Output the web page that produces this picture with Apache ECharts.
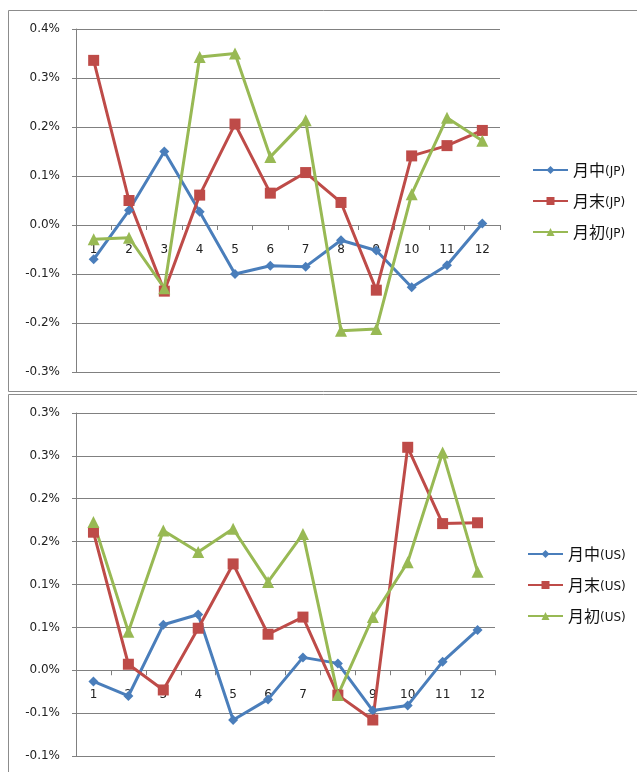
<!DOCTYPE html>
<html>
<head>
<meta charset="utf-8">
<script src="https://cdn.jsdelivr.net/npm/echarts@6/dist/echarts.min.js"></script>
<style>
  html, body { margin: 0; padding: 0; background: #fff; }
  #chart { width: 637px; height: 772px; }
</style>
</head>
<body>
<div id="chart"></div>
<script>
// Months on the category axis
const months = ['1', '2', '3', '4', '5', '6', '7', '8', '9', '10', '11', '12'];

// Japan: mid-month, month-end, month-start returns (%)
const jpMid   = [-0.070, 0.030, 0.150, 0.027, -0.100, -0.083, -0.085, -0.031, -0.052, -0.127, -0.082, 0.003];
const jpEnd   = [0.336, 0.050, -0.135, 0.061, 0.206, 0.065, 0.107, 0.046, -0.133, 0.141, 0.162, 0.193];
const jpStart = [-0.029, -0.026, -0.129, 0.343, 0.350, 0.139, 0.214, -0.216, -0.212, 0.063, 0.219, 0.172];

// US: mid-month, month-end, month-start returns (%)
const usMid   = [-0.013, -0.030, 0.053, 0.065, -0.058, -0.034, 0.015, 0.008, -0.047, -0.041, 0.010, 0.047];
const usEnd   = [0.161, 0.007, -0.023, 0.049, 0.124, 0.042, 0.062, -0.029, -0.058, 0.260, 0.171, 0.172];
const usStart = [0.173, 0.045, 0.163, 0.138, 0.165, 0.103, 0.159, -0.029, 0.062, 0.126, 0.254, 0.115];

// Series names
const jpNames = ['月中(JP)', '月末(JP)', '月初(JP)'];
const usNames = ['月中(US)', '月末(US)', '月初(US)'];

// Value-axis ranges and their tick labels (one decimal, rounded half up)
const jpMin = -0.3, jpMax = 0.4, jpStep = 0.1;
const jpTicks = ['-0.3%', '-0.2%', '-0.1%', '0.0%', '0.1%', '0.2%', '0.3%', '0.4%'];
const usMin = -0.1, usMax = 0.3, usStep = 0.05;
const usTicks = ['-0.1%', '-0.1%', '0.0%', '0.1%', '0.1%', '0.2%', '0.2%', '0.3%', '0.3%'];

const BLUE = '#4A7EBB', RED = '#BE4B48', GREEN = '#98B954';
const GRID_GREY = '#808080';
const FONT = '"DejaVu Sans", sans-serif';
const CJK = '"Noto Sans CJK JP", sans-serif';

// Plot boxes (pixels)
const plots = [
  { left: 76, top: 29, width: 424, height: 343, min: jpMin, max: jpMax },
  { left: 76, top: 413, width: 419, height: 343, min: usMin, max: usMax }
];

function valueAxis(idx, min, max, step, ticks) {
  return {
    type: 'value', gridIndex: idx, min: min, max: max, interval: step,
    axisLine: { show: true, lineStyle: { color: GRID_GREY, width: 1 } },
    axisTick: { show: true, length: 4, lineStyle: { color: GRID_GREY } },
    splitLine: { show: true, lineStyle: { color: GRID_GREY, width: 1 } },
    axisLabel: {
      margin: 16, color: '#222', fontFamily: FONT, fontSize: 12,
      formatter: v => ticks[Math.round((v - min) / step)]
    }
  };
}

// Category axis sits on the zero line: shift it up from the plot bottom
function categoryAxis(idx) {
  const p = plots[idx];
  const zeroShift = -p.height * (0 - p.min) / (p.max - p.min);
  return {
    type: 'category', gridIndex: idx, data: months, boundaryGap: true,
    position: 'bottom', offset: zeroShift,
    axisLine: { show: true, onZero: false, lineStyle: { color: GRID_GREY, width: 1 } },
    axisTick: { show: true, length: 5, alignWithLabel: false, lineStyle: { color: GRID_GREY } },
    axisLabel: { margin: 19, color: '#222', fontFamily: FONT, fontSize: 12, interval: 0 },
    splitLine: { show: false }
  };
}

const markers = [
  { symbol: 'diamond', size: 10, color: BLUE },
  { symbol: 'rect', size: 11, color: RED },
  { symbol: 'triangle', size: 12, color: GREEN }
];

function lineSeries(name, data, k, idx) {
  const m = markers[k];
  return {
    name: name, type: 'line', data: data,
    xAxisIndex: idx, yAxisIndex: idx,
    symbol: m.symbol, symbolSize: m.size, showAllSymbol: true,
    lineStyle: { color: m.color, width: 3 },
    itemStyle: { color: m.color, borderWidth: 0 },
    emphasis: { disabled: true },
    animation: false
  };
}

function legendBlock(names, left, top) {
  return {
    data: names, orient: 'vertical', left: left, top: top,
    itemWidth: 35, itemHeight: 10, itemGap: 15,
    formatter: n => {
      const p = n.indexOf('(');
      return '{c|' + n.slice(0, p) + '}{s|' + n.slice(p) + '}';
    },
    textStyle: {
      rich: {
        c: { fontFamily: CJK, fontSize: 16, color: '#111' },
        s: { fontFamily: FONT, fontSize: 12, color: '#111', padding: [3, 0, 0, 0] }
      }
    }
  };
}

const chart = echarts.init(document.getElementById('chart'), null, { renderer: 'canvas' });

chart.setOption({
  backgroundColor: '#fff',
  animation: false,
  graphic: [
    { type: 'rect', shape: { x: 8.5, y: 10.5, width: 640, height: 381 },
      style: { fill: 'none', stroke: '#8c8c8c', lineWidth: 1 }, silent: true, z: -1 },
    { type: 'rect', shape: { x: 8.5, y: 394.5, width: 640, height: 400 },
      style: { fill: 'none', stroke: '#8c8c8c', lineWidth: 1 }, silent: true, z: -1 }
  ],
  grid: plots.map(p => ({ left: p.left, top: p.top, width: p.width, height: p.height })),
  xAxis: [categoryAxis(0), categoryAxis(1)],
  yAxis: [
    valueAxis(0, jpMin, jpMax, jpStep, jpTicks),
    valueAxis(1, usMin, usMax, usStep, usTicks)
  ],
  legend: [
    legendBlock(jpNames, 527, 157),
    legendBlock(usNames, 522, 541)
  ],
  series: [
    lineSeries(jpNames[0], jpMid, 0, 0),
    lineSeries(jpNames[1], jpEnd, 1, 0),
    lineSeries(jpNames[2], jpStart, 2, 0),
    lineSeries(usNames[0], usMid, 0, 1),
    lineSeries(usNames[1], usEnd, 1, 1),
    lineSeries(usNames[2], usStart, 2, 1)
  ]
});
</script>
</body>
</html>
